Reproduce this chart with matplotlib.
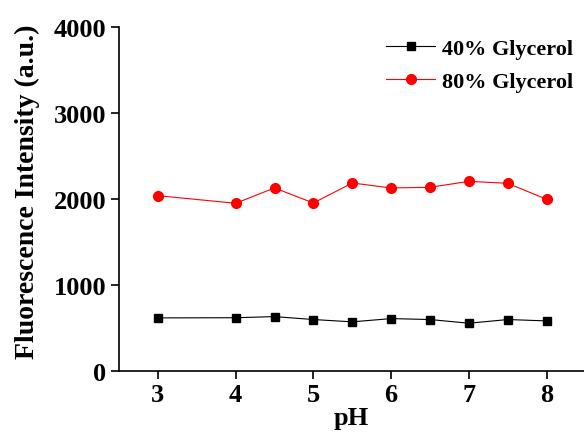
import matplotlib
matplotlib.use("Agg")
import matplotlib.pyplot as plt
from matplotlib.lines import Line2D

ph = [3, 4, 4.5, 5, 5.5, 6, 6.5, 7, 7.5, 8]
g40 = [616, 618, 631, 597, 570, 608, 597, 554, 597, 581]
g40_err = [10, 10, 10, 10, 10, 10, 10, 10, 10, 10]
g80 = [2038, 1950, 2128, 1953, 2186, 2128, 2136, 2205, 2182, 1996]
g80_err = [64, 20, 25, 20, 25, 20, 25, 30, 25, 40]
xticks = [3, 4, 5, 6, 7, 8]
yticks = [0, 1000, 2000, 3000, 4000]
labels = ['40% Glycerol', '80% Glycerol']

plt.rcParams['font.family'] = ['Liberation Serif', 'DejaVu Serif']
plt.rcParams['font.weight'] = 'bold'

fig = plt.figure(figsize=(5.84, 4.39), dpi=100)
ax = fig.add_axes([119 / 584, 0.153, 465 / 584, 0.783])

ax.errorbar(ph, g40, yerr=g40_err, color='black', marker='s', markersize=5.5,
            linewidth=0.8, elinewidth=0.8, capsize=0)
ax.errorbar(ph, g80, yerr=g80_err, color='red', marker='o', markersize=7,
            linewidth=0.8, elinewidth=0.8, capsize=0, ecolor='#ff6666')

ax.set_xlim(2.5, 8.48)
ax.set_ylim(0, 4000)
ax.set_xticks(xticks)
ax.set_yticks(yticks)
ax.spines['top'].set_visible(False)
ax.spines['right'].set_visible(False)
ax.spines['left'].set_linewidth(1.2)
ax.spines['bottom'].set_linewidth(1.2)
ax.tick_params(direction='out', length=6, width=1.2, labelsize=19, pad=3)
for lab in ax.get_xticklabels() + ax.get_yticklabels():
    lab.set_fontweight('bold')
ax.set_xlabel('pH', fontsize=19, fontweight='bold', labelpad=0)
ax.set_ylabel('Fluorescence Intensity (a.u.)', fontsize=20, fontweight='bold')
ax.yaxis.set_label_coords(-0.17, 0.523)

handles = [Line2D([], [], color='black', marker='s', markersize=5.5, linewidth=0.8),
           Line2D([], [], color='red', marker='o', markersize=7, linewidth=0.8)]
leg = ax.legend(handles, labels, loc='upper right', frameon=False, fontsize=16,
                handlelength=2.2, handletextpad=0.3, borderaxespad=0.1,
                labelspacing=0.55, bbox_to_anchor=(1.0, 1.0))
for t in leg.get_texts():
    t.set_fontweight('bold')

fig.savefig('out.png', dpi=100)
